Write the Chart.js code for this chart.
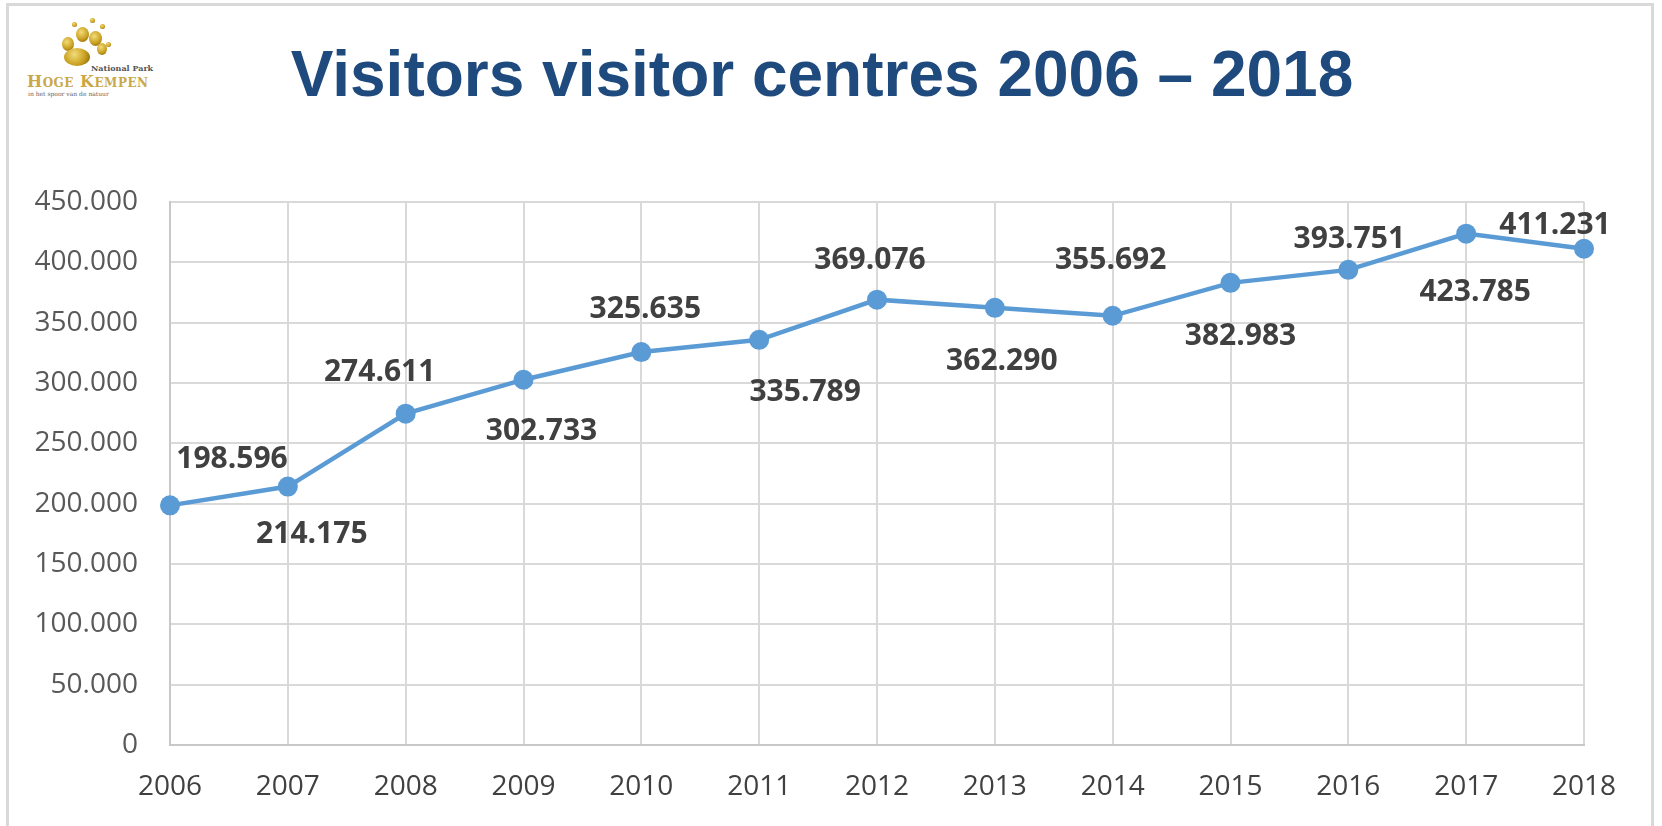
<!DOCTYPE html>
<html>
<head>
<meta charset="utf-8">
<script src="https://cdn.jsdelivr.net/npm/chart.js@4.4.0/dist/chart.umd.min.js"></script>
<style>
  body { margin: 0; background: #fff; }
  #page { position: relative; width: 1662px; height: 826px; overflow: hidden; }
  #frame { position: absolute; left: 6px; top: 3px; width: 1648px; height: 840px; border: 3px solid #d9d9d9; box-sizing: border-box; }
  #title { position: absolute; left: 0; width: 1644px; top: 37px; text-align: center;
           font-family: "Liberation Sans", Arial, sans-serif; font-weight: bold; font-size: 64px; color: #1f4a7e; }
  #chartBox { position: absolute; left: 0; top: 0; width: 1662px; height: 826px; }
  .pad { position: absolute; border-radius: 50%;
         background: radial-gradient(circle at 40% 35%, #f3dc7a, #c9a020 55%, #7a5a08); }
  .logoText { position: absolute; font-family: "DejaVu Serif", serif; color: #c9a84a; white-space: nowrap; }
</style>
</head>
<body>
<div id="page">
  <div id="frame"></div>

  <!-- logo -->
  <div class="pad" style="left:72px;top:22px;width:5px;height:5px"></div>
  <div class="pad" style="left:90px;top:18px;width:5px;height:5px"></div>
  <div class="pad" style="left:100px;top:24px;width:5px;height:5px"></div>
  <div class="pad" style="left:106px;top:42px;width:5px;height:5px"></div>
  <div class="pad" style="left:76px;top:27px;width:13px;height:15px"></div>
  <div class="pad" style="left:89px;top:31px;width:13px;height:15px"></div>
  <div class="pad" style="left:62px;top:37px;width:12px;height:14px"></div>
  <div class="pad" style="left:97px;top:43px;width:10px;height:12px"></div>
  <div class="pad" style="left:64px;top:48px;width:26px;height:18px"></div>
  <div class="logoText" style="left:91px;top:63px;font-size:8px;color:#555;font-weight:bold">National Park</div>
  <div class="logoText" style="left:27px;top:72px;font-size:16px;font-weight:bold;letter-spacing:0.5px">H<span style="font-size:12px">OGE</span> K<span style="font-size:12px">EMPEN</span></div>
  <div class="logoText" style="left:28px;top:90px;font-size:6px;color:#666">in het spoor van de natuur</div>

  <div id="title">Visitors visitor centres 2006 – 2018</div>

  <div id="chartBox"><canvas id="visitorsChart"></canvas></div>
</div>

<script>
/*************************
 DATA
**************************/
const years = ["2006", "2007", "2008", "2009", "2010", "2011", "2012",
               "2013", "2014", "2015", "2016", "2017", "2018"];
const visitors = [198596, 214175, 274611, 302733, 325635, 335789, 369076,
                  362290, 355692, 382983, 393751, 423785, 411231];
const yTicks = [0, 50000, 100000, 150000, 200000, 250000, 300000,
                350000, 400000, 450000];

/*************************
 NUMBER FORMAT (dot thousands)
**************************/
function fmt(n) {
  return n.toString().replace(/\B(?=(\d{3})+(?!\d))/g, ".");
}

/*************************
 DATA LABELS (placed like the original slide)
**************************/
const labelOffsets = {
  dx: [62, 24, -26, 18, 4, 46, -7, 7, -2, 10, 1, 9, -29],
  dy: [-46, 48, -41, 52, -43, 53, -39, 54, -55, 54, -30, 59, -23]
};

const dataLabels = {
  id: "dataLabels",
  afterDatasetsDraw(chart) {
    const ctx = chart.ctx;
    const meta = chart.getDatasetMeta(0);
    ctx.save();
    ctx.font = "bold 30px 'Open Sans'";
    ctx.fillStyle = "#404040";
    ctx.textAlign = "center";
    ctx.textBaseline = "middle";
    meta.data.forEach((pt, i) => {
      ctx.fillText(fmt(visitors[i]), pt.x + labelOffsets.dx[i], pt.y + labelOffsets.dy[i]);
    });
    ctx.restore();
  }
};

/*************************
 CHART
**************************/
const ctx = document.getElementById("visitorsChart").getContext("2d");
const visitorsChart = new Chart(ctx, {
  type: "line",
  data: {
    labels: years,
    datasets: [{
      data: visitors,
      borderColor: "#5b9bd5",
      backgroundColor: "#5b9bd5",
      borderWidth: 4.5,
      pointRadius: 10,
      pointBorderWidth: 0,
      pointBackgroundColor: "#5b9bd5",
      tension: 0
    }]
  },
  options: {
    responsive: true,
    maintainAspectRatio: false,
    animation: false,
    layout: { padding: { left: 0, top: 202, right: 78, bottom: 0 } },
    plugins: {
      legend: { display: false },
      tooltip: { enabled: false }
    },
    scales: {
      x: {
        offset: false,
        grid: { color: "#d9d9d9", lineWidth: 2, drawTicks: false },
        border: { color: "#c8c8c8", width: 2 },
        ticks: {
          color: "#404040",
          font: { family: "Open Sans", size: 28 },
          padding: 25,
          maxRotation: 0
        },
        afterFit(scale) { scale.height = 81; }
      },
      y: {
        min: 0,
        max: 450000,
        afterBuildTicks(scale) { scale.ticks = yTicks.map(v => ({ value: v })); },
        grid: { color: "#d9d9d9", lineWidth: 2, drawTicks: false },
        border: { color: "#c8c8c8", width: 2 },
        ticks: {
          color: "#595959",
          font: { family: "Open Sans", size: 28 },
          padding: 32,
          callback: v => fmt(v)
        },
        afterFit(scale) { scale.width = 170; }
      }
    }
  },
  plugins: [dataLabels]
});
</script>
</body>
</html>
